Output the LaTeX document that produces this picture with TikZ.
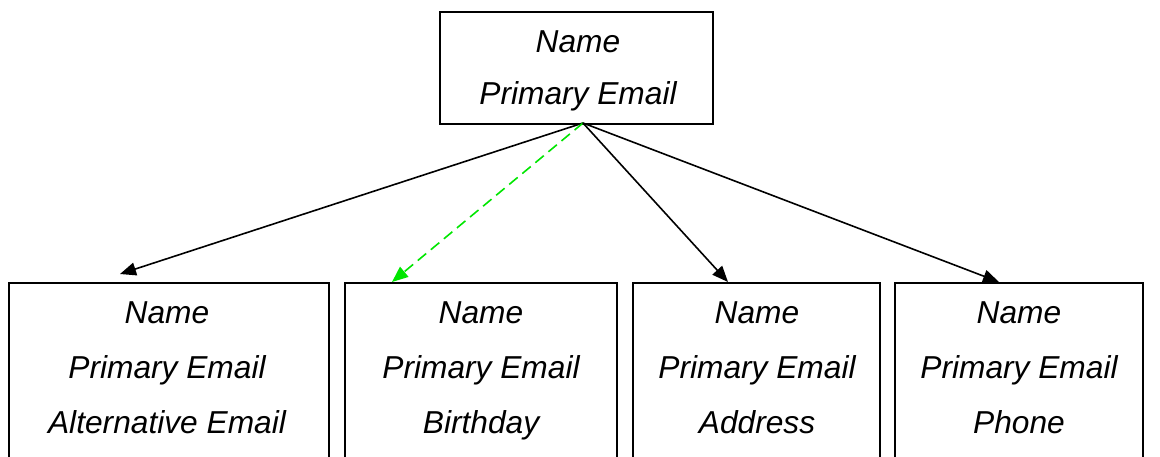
\documentclass[tikz,border=0pt]{standalone}
\usepackage{fontspec}
\setmainfont{Liberation Sans}
\usetikzlibrary{arrows.meta}
\tikzset{
  box/.style={draw=black, line width=2pt, rectangle, inner sep=0pt, anchor=north west},
  txt/.style={anchor=base, inner sep=0pt, font=\fontsize{31.7}{38}\selectfont\itshape},
  conn/.style={line width=1.6pt, -{Triangle[length=16pt,width=13pt]}},
  opt/.style={conn, draw={rgb,255:red,0;green,230;blue,0}, dash pattern=on 11pt off 6pt},
}
\begin{document}
\begin{tikzpicture}[x=1pt,y=-1pt]
\useasboundingbox (0,0) rectangle (1160,456);
\clip (0,0) rectangle (1160,456);
% top box
\node[box, minimum width=273pt, minimum height=112pt] (top) at (439,11) {};
\node[txt] (t1) at (578,52) {Name};
\node[txt] (t2) at (578,104) {Primary Email};
% bottom boxes
\node[box, minimum width=320pt, minimum height=220pt] (b1) at (8,282) {};
\node[box, minimum width=272pt, minimum height=220pt] (b2) at (344,282) {};
\node[box, minimum width=247pt, minimum height=220pt] (b3) at (632,282) {};
\node[box, minimum width=248pt, minimum height=220pt] (b4) at (894,282) {};
\foreach \n/\x/\third in {b1/167/Alternative Email, b2/481/Birthday, b3/757/Address, b4/1019/Phone}{
  \node[txt] (\n-a) at (\x,323) {Name};
  \node[txt] (\n-b) at (\x,378) {Primary Email};
  \node[txt] (\n-c) at (\x,433) {\third};
}
% connectors
\coordinate (o) at (583,123);
\coordinate (e1) at (120,274);
\coordinate (e2) at (392,282);
\coordinate (e3) at (728,282);
\coordinate (e4) at (999,282);
\draw[conn] (o) -- (e1);
\draw[opt] (o) -- (e2);
\draw[conn] (o) -- (e3);
\draw[conn] (o) -- (e4);
\end{tikzpicture}
\end{document}
